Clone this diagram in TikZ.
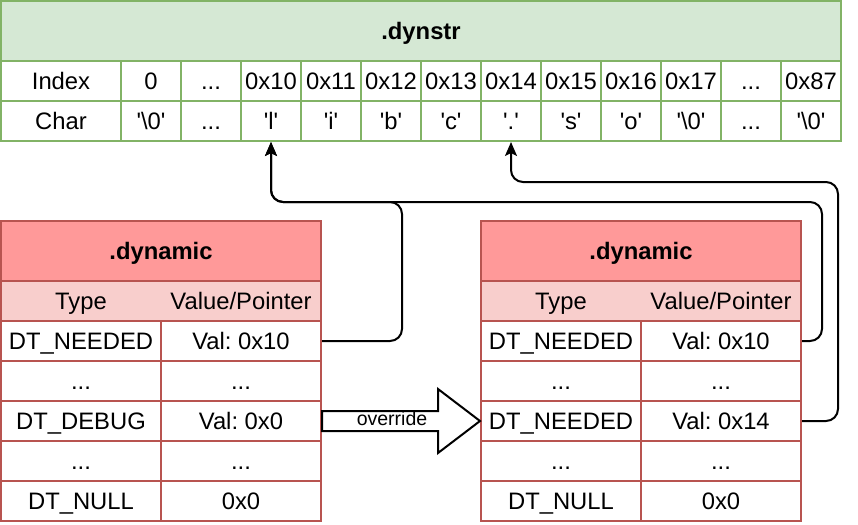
\documentclass[tikz,border=0pt]{standalone}
\usepackage{fontspec}
\setmainfont{Liberation Sans}
\usetikzlibrary{arrows.meta,calc}
\definecolor{gfill}{HTML}{D5E8D4}
\definecolor{gdraw}{HTML}{82B366}
\definecolor{rhead}{HTML}{FF9999}
\definecolor{rsub}{HTML}{F8CECC}
\definecolor{rdraw}{HTML}{B85450}
\newcommand{\myq}[1]{\textquotesingle#1\textquotesingle}
\newcommand{\mydots}{...}
\newcommand{\nul}{\myq{\textbackslash0}}
\frenchspacing
\begin{document}
\begin{tikzpicture}[x=1pt,y=-1pt,
  txt/.style={inner sep=0pt, font=\fontsize{23.8}{28}\selectfont, text=black, text height=17pt, text depth=0pt},
  cell/.style={txt, draw, rectangle, line width=2pt, minimum height=40pt},
  gcell/.style={cell, draw=gdraw, fill=white, minimum width=60pt},
  rcell/.style={cell, draw=rdraw, fill=white, minimum width=160pt},
  hdr/.style={cell, minimum height=60pt, font=\fontsize{23.8}{28}\selectfont\bfseries},
  conn/.style={draw=black, line width=2pt, rounded corners=12pt, -{Stealth[length=14pt,width=12pt,inset=3pt]}},
  blockarrow/.style={draw=black, line width=2pt, fill=white, line join=miter}
]
\useasboundingbox (0,0) rectangle (858,524);

% ---------- .dynstr table ----------
\node[hdr, draw=gdraw, fill=gfill, minimum width=840pt] (dynstr) at (421,31) {.dynstr};
\node[gcell, minimum width=120pt] (idxlab) at (61,81) {Index};
\node[gcell, minimum width=120pt] (chrlab) at (61,121) {Char};
\foreach \ix/\ch [count=\k] in {0/\nul, \mydots/\mydots, 0x10/\myq{l}, 0x11/\myq{i}, 0x12/\myq{b}, 0x13/\myq{c}, 0x14/\myq{.}, 0x15/\myq{s}, 0x16/\myq{o}, 0x17/\nul, \mydots/\mydots, 0x87/\nul}{
  \node[gcell] (i\k) at (91+60*\k,81) {\ix};
  \node[gcell] (c\k) at (91+60*\k,121) {\ch};
}

% ---------- left .dynamic ----------
\node[hdr, draw=rdraw, fill=rhead, minimum width=320pt] (Lhead) at (161,251) {.dynamic};
\node[cell, draw=rdraw, fill=rsub, minimum width=320pt] (Lsub) at (161,301) {};
\node[txt] (Ltype) at (81,301) {Type};
\node[txt] (Lval) at (241,301) {Value/Pointer};
\foreach \t/\v [count=\k] in {DT\_NEEDED/Val: 0x10, \mydots/\mydots, DT\_DEBUG/Val: 0x0, \mydots/\mydots, DT\_NULL/0x0}{
  \node[rcell] (LT\k) at (81,301+40*\k) {\t};
  \node[rcell] (LV\k) at (241,301+40*\k) {\v};
}

% ---------- right .dynamic ----------
\node[hdr, draw=rdraw, fill=rhead, minimum width=320pt] (Rhead) at (641,251) {.dynamic};
\node[cell, draw=rdraw, fill=rsub, minimum width=320pt] (Rsub) at (641,301) {};
\node[txt] (Rtype) at (561,301) {Type};
\node[txt] (Rval) at (721,301) {Value/Pointer};
\foreach \t/\v [count=\k] in {DT\_NEEDED/Val: 0x10, \mydots/\mydots, DT\_NEEDED/Val: 0x14, \mydots/\mydots, DT\_NULL/0x0}{
  \node[rcell] (RT\k) at (561,301+40*\k) {\t};
  \node[rcell] (RV\k) at (721,301+40*\k) {\v};
}

% ---------- connectors ----------
\draw[conn] (LV1.east) -- ++(80,0) |- ([yshift=-60pt]c3.south) -- (c3.south);
\draw[conn] (RV1.east) -- ++(20,0) |- ([yshift=-60pt]c3.south) -- (c3.south);
\draw[conn] (RV3.east) -- ++(36,0) |- ([yshift=-40pt]c7.south) -- (c7.south);

% ---------- override block arrow ----------
\coordinate (os) at (LV3.east);
\coordinate (ot) at (RT3.west);
\path[blockarrow] ($(os)+(0,-10)$) -- ($(ot)+(-42,-10)$) -- ($(ot)+(-42,-32)$) -- (ot)
  -- ($(ot)+(-42,32)$) -- ($(ot)+(-42,10)$) -- ($(os)+(0,10)$) -- cycle;
\node[inner sep=0pt, font=\fontsize{19.5}{22}\selectfont] (ovr) at ($(os)+(70,-2)$) {override};
\end{tikzpicture}
\end{document}
